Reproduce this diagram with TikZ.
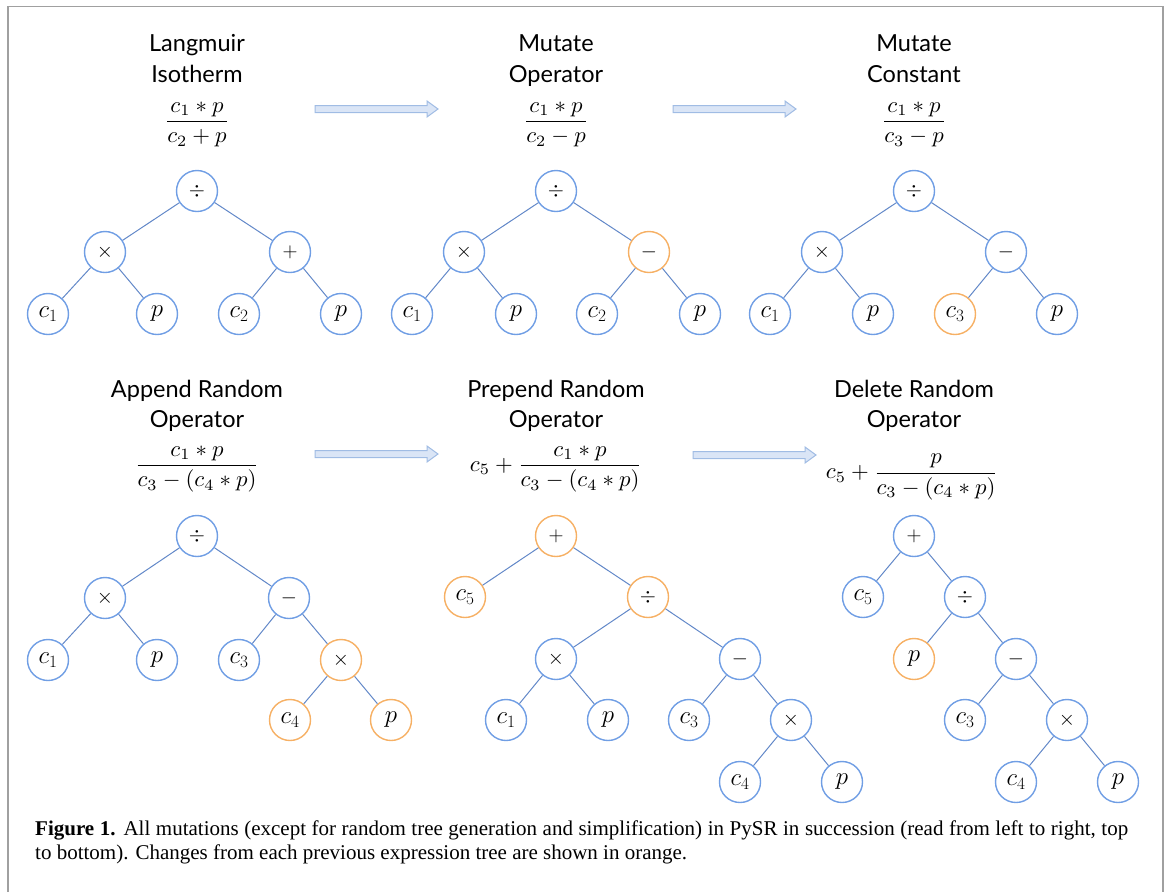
\documentclass[tikz,border=0pt]{standalone}
\usepackage{fontspec}
\newfontfamily\titlefont{Lato}
\newfontfamily\capfont{Liberation Serif}
\definecolor{nblue}{RGB}{112,158,228}
\definecolor{eblue}{RGB}{98,136,200}
\definecolor{norange}{RGB}{246,176,100}
\definecolor{afill}{RGB}{218,229,246}
\definecolor{aedge}{RGB}{160,188,228}
\definecolor{frame}{RGB}{160,160,160}
\tikzset{
  tn/.style={circle,draw=nblue,line width=1.4pt,minimum size=41pt,inner sep=0pt,font=\fontsize{24}{26}\selectfont},
  to/.style={tn,draw=norange},
  op/.style={font=\fontsize{20}{22}\selectfont},
  edge/.style={draw=eblue,line width=1pt},
  ttl/.style={anchor=base,inner sep=0pt,font=\titlefont\fontsize{23.5}{31}\selectfont},
  frm/.style={inner sep=0pt,font=\fontsize{10}{12}\selectfont},
  capt/.style={anchor=base west,inner sep=0pt,font=\capfont\fontsize{21}{24.5}\selectfont},
  arrowst/.style={fill=afill,draw=aedge,line width=1pt,line join=miter}
}
\newcommand\blockarrow[2]{%
  \draw[arrowst] (#1,{#2-3.5}) -- ({#1+112},{#2-3.5}) -- ({#1+112},{#2-8}) -- ({#1+123},#2) -- ({#1+112},{#2+8}) -- ({#1+112},{#2+3.5}) -- (#1,{#2+3.5}) -- cycle;}
\newcommand\fml[1]{\scalebox{2.28}[2.25]{$\displaystyle #1$}}
\begin{document}
\begin{tikzpicture}[x=1pt,y=-1pt]
\useasboundingbox (0,0) rectangle (1167,892);
\draw[frame,line width=1.5pt] (8,892) -- (8,6.5) -- (1163,6.5) -- (1163,892);

% titles
\node[ttl] (t1a) at (197,51) {Langmuir};
\node[ttl] (t1b) at (197,82) {Isotherm};
\node[ttl] (t2a) at (556,51) {Mutate};
\node[ttl] (t2b) at (556,82) {Operator};
\node[ttl] (t3a) at (914,51) {Mutate};
\node[ttl] (t3b) at (914,82) {Constant};
\node[ttl] (t4a) at (197,397) {Append Random};
\node[ttl] (t4b) at (197,427) {Operator};
\node[ttl] (t5a) at (556,397) {Prepend Random};
\node[ttl] (t5b) at (556,427) {Operator};
\node[ttl] (t6a) at (914,397) {Delete Random};
\node[ttl] (t6b) at (914,427) {Operator};

% formulas
\node[frm] (f1) at (197,124.5) {\fml{\frac{c_1*p}{c_2+p}}};
\node[frm] (f2) at (556,124.5) {\fml{\frac{c_1*p}{c_2-p}}};
\node[frm] (f3) at (914,124.5) {\fml{\frac{c_1*p}{c_3-p}}};
\node[frm] (f4) at (197,469) {\fml{\frac{c_1*p}{c_3-(c_4*p)}}};
\node[frm] (f5) at (556,469) {\fml{c_5+\frac{c_1*p}{c_3-(c_4*p)}}};
\node[frm] (f6) at (912,477) {\fml{c_5+\frac{p}{c_3-(c_4*p)}}};

% arrows
\blockarrow{315}{109}
\blockarrow{673}{109}
\blockarrow{315}{454}
\blockarrow{693}{455}

% tree 1
\node[tn,op] (a0) at (197,191) {$\div$};
\node[tn,op] (a1) at (105,252) {$\times$};
\node[tn,op] (a2) at (290,252) {$+$};
\node[tn] (a3) at (48,314) {$c_1$};
\node[tn] (a4) at (157,314) {$p$};
\node[tn] (a5) at (239,314) {$c_2$};
\node[tn] (a6) at (341,314) {$p$};
\draw[edge] (a0)--(a1) (a0)--(a2) (a1)--(a3) (a1)--(a4) (a2)--(a5) (a2)--(a6);

% tree 2
\node[tn,op] (b0) at (556,191) {$\div$};
\node[tn,op] (b1) at (464,252) {$\times$};
\node[to,op] (b2) at (649,252) {$-$};
\node[tn] (b3) at (412,314) {$c_1$};
\node[tn] (b4) at (516,314) {$p$};
\node[tn] (b5) at (597,314) {$c_2$};
\node[tn] (b6) at (700,314) {$p$};
\draw[edge] (b0)--(b1) (b0)--(b2) (b1)--(b3) (b1)--(b4) (b2)--(b5) (b2)--(b6);

% tree 3
\node[tn,op] (c0) at (914,191) {$\div$};
\node[tn,op] (c1) at (822,252) {$\times$};
\node[tn,op] (c2) at (1006,252) {$-$};
\node[tn] (c3) at (770,314) {$c_1$};
\node[tn] (c4) at (873,314) {$p$};
\node[to] (c5) at (955,314) {$c_3$};
\node[tn] (c6) at (1057,314) {$p$};
\draw[edge] (c0)--(c1) (c0)--(c2) (c1)--(c3) (c1)--(c4) (c2)--(c5) (c2)--(c6);

% tree 4
\node[tn,op] (d0) at (197,536) {$\div$};
\node[tn,op] (d1) at (105,598) {$\times$};
\node[tn,op] (d2) at (289,598) {$-$};
\node[tn] (d3) at (48,660) {$c_1$};
\node[tn] (d4) at (157,660) {$p$};
\node[tn] (d5) at (239,660) {$c_3$};
\node[to,op] (d6) at (341,660) {$\times$};
\node[to] (d7) at (290,720) {$c_4$};
\node[to] (d8) at (391,720) {$p$};
\draw[edge] (d0)--(d1) (d0)--(d2) (d1)--(d3) (d1)--(d4) (d2)--(d5) (d2)--(d6) (d6)--(d7) (d6)--(d8);

% tree 5
\node[to,op] (e0) at (556,536) {$+$};
\node[to] (e1) at (465,597) {$c_5$};
\node[to,op] (e2) at (648,597) {$\div$};
\node[tn,op] (e3) at (556,659) {$\times$};
\node[tn,op] (e4) at (740,659) {$-$};
\node[tn] (e5) at (506,720) {$c_1$};
\node[tn] (e6) at (608,720) {$p$};
\node[tn] (e7) at (689,720) {$c_3$};
\node[tn,op] (e8) at (791,720) {$\times$};
\node[tn] (e9) at (740,782) {$c_4$};
\node[tn] (e10) at (842,782) {$p$};
\draw[edge] (e0)--(e1) (e0)--(e2) (e2)--(e3) (e2)--(e4) (e3)--(e5) (e3)--(e6) (e4)--(e7) (e4)--(e8) (e8)--(e9) (e8)--(e10);

% tree 6
\node[tn,op] (g0) at (914,536) {$+$};
\node[tn] (g1) at (863,597) {$c_5$};
\node[tn,op] (g2) at (965,597) {$\div$};
\node[to] (g3) at (914,659) {$p$};
\node[tn,op] (g4) at (1016,659) {$-$};
\node[tn] (g5) at (965,720) {$c_3$};
\node[tn,op] (g6) at (1067,720) {$\times$};
\node[tn] (g7) at (1016,782) {$c_4$};
\node[tn] (g8) at (1118,782) {$p$};
\draw[edge] (g0)--(g1) (g0)--(g2) (g2)--(g3) (g2)--(g4) (g4)--(g5) (g4)--(g6) (g6)--(g7) (g6)--(g8);

% caption
\node[capt] (cap1) at (35,835) {\makebox[1093pt][s]{\textbf{Figure 1.} All mutations (except for random tree generation and simplification) in PySR in succession (read from left to right, top}};
\node[capt] (cap2) at (35,859) {to bottom). Changes from each previous expression tree are shown in orange.};
\end{tikzpicture}
\end{document}
